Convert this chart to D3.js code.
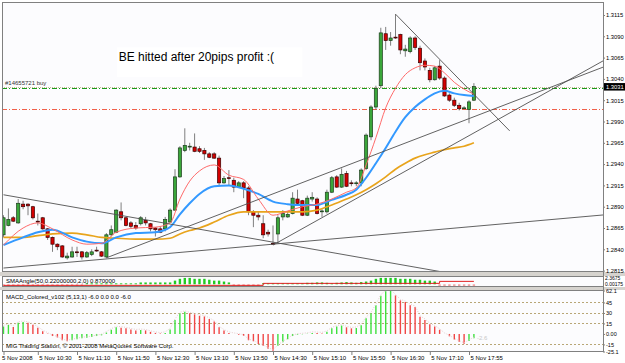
<!DOCTYPE html>
<html>
<head>
<meta charset="utf-8">
<title>EURUSD M5</title>
<script src="https://d3js.org/d3.v7.min.js"></script>
<style>
  body { margin: 0; background: #fff; }
  svg text { font-family: "Liberation Sans", Arial, sans-serif; }
</style>
</head>
<body>
<div id="chart"></div>
<script>

// candles, one per 5 minutes, bar 0 = 09:55
var opens = [1.2857,1.2868,1.2877,1.2871,1.2893,1.2893,1.2890,1.2873,1.2877,1.2864,
  1.2854,1.2846,1.2844,1.2830,1.2831,1.2837,1.2837,1.2831,1.2834,1.2839,
  1.2837,1.2831,1.2857,1.2860,1.2884,1.2877,1.2871,1.2868,1.2870,1.2874,
  1.2870,1.2865,1.2864,1.2864,1.2872,1.2886,1.2925,1.2956,1.2960,1.2960,
  1.2958,1.2956,1.2952,1.2952,1.2947,1.2918,1.2924,1.2921,1.2913,1.2918,
  1.2912,1.2884,1.2880,1.2870,1.2860,1.2847,1.2858,1.2878,1.2878,1.2882,
  1.2899,1.2897,1.2880,1.2899,1.2899,1.2884,1.2884,1.2907,1.2925,1.2913,
  1.2929,1.2918,1.2917,1.2918,1.2935,1.2972,1.3007,1.3032,1.3093,1.3085,
  1.3089,1.3092,1.3073,1.3072,1.3088,1.3076,1.3061,1.3050,1.3039,1.3055,
  1.3041,1.3021,1.3015,1.3009,1.3005,1.3004,1.3015];
var highs = [1.2880,1.2888,1.2879,1.2899,1.2897,1.2894,1.2891,1.2882,1.2878,1.2865,
  1.2855,1.2847,1.2845,1.2836,1.2843,1.2843,1.2838,1.2838,1.2840,1.2843,
  1.2838,1.2859,1.2868,1.2887,1.2895,1.2878,1.2873,1.2872,1.2879,1.2878,
  1.2871,1.2866,1.2867,1.2878,1.2888,1.2934,1.2961,1.2982,1.2965,1.2976,
  1.2961,1.2959,1.2954,1.2954,1.2950,1.2926,1.2933,1.2924,1.2920,1.2920,
  1.2914,1.2886,1.2884,1.2880,1.2863,1.2868,1.2880,1.2886,1.2884,1.2907,
  1.2910,1.2898,1.2903,1.2907,1.2901,1.2887,1.2910,1.2926,1.2927,1.2935,
  1.2932,1.2921,1.2920,1.2935,1.2976,1.3009,1.3032,1.3100,1.3101,1.3095,
  1.3116,1.3093,1.3080,1.3090,1.3090,1.3079,1.3064,1.3053,1.3055,1.3062,
  1.3043,1.3023,1.3018,1.3012,1.3008,1.3015,1.3035];
var lows = [1.2854,1.2867,1.2872,1.2870,1.2887,1.2880,1.2875,1.2868,1.2863,1.2851,
  1.2837,1.2839,1.2830,1.2828,1.2830,1.2831,1.2828,1.2830,1.2832,1.2837,
  1.2831,1.2830,1.2855,1.2859,1.2874,1.2867,1.2865,1.2863,1.2868,1.2868,
  1.2861,1.2855,1.2859,1.2861,1.2871,1.2885,1.2924,1.2954,1.2956,1.2954,
  1.2953,1.2945,1.2947,1.2946,1.2915,1.2917,1.2915,1.2907,1.2912,1.2900,
  1.2880,1.2866,1.2874,1.2853,1.2855,1.2845,1.2847,1.2874,1.2877,1.2881,
  1.2892,1.2879,1.2879,1.2896,1.2881,1.2878,1.2882,1.2906,1.2912,1.2912,
  1.2913,1.2914,1.2914,1.2914,1.2933,1.2968,1.3004,1.3029,1.3074,1.3079,
  1.3087,1.3069,1.3066,1.3070,1.3074,1.3050,1.3050,1.3036,1.3038,1.3039,
  1.3019,1.3013,1.3007,1.3003,1.3005,1.2988,1.3014];
var closes = [1.2877,1.2875,1.2873,1.2894,1.2890,1.2891,1.2877,1.2872,1.2864,1.2854,
  1.2846,1.2843,1.2831,1.2832,1.2837,1.2836,1.2831,1.2836,1.2837,1.2838,
  1.2832,1.2857,1.2863,1.2886,1.2877,1.2868,1.2867,1.2865,1.2877,1.2871,
  1.2864,1.2863,1.2860,1.2875,1.2886,1.2925,1.2959,1.2962,1.2961,1.2955,
  1.2955,1.2952,1.2948,1.2947,1.2918,1.2923,1.2923,1.2913,1.2918,1.2912,
  1.2884,1.2880,1.2878,1.2857,1.2858,1.2846,1.2877,1.2882,1.2881,1.2900,
  1.2894,1.2880,1.2900,1.2901,1.2882,1.2885,1.2907,1.2924,1.2913,1.2928,
  1.2914,1.2917,1.2918,1.2933,1.2974,1.3007,1.3029,1.3094,1.3085,1.3088,
  1.3088,1.3074,1.3075,1.3088,1.3077,1.3059,1.3054,1.3039,1.3053,1.3041,
  1.3020,1.3015,1.3009,1.3005,1.3006,1.3013,1.3031];

// moving averages at these bars
var maBars = [0,4,7,10,14,17,20,23,27,31,34,36,38,40,43,46,49,52,55,58,61,64,67,70,72,74,76,78,80,82,84,86,88,90,92,94,96];
var maFast = [1.2845,1.2865,1.2871,1.2864,1.2851,1.2846,1.2847,1.2860,1.2865,1.2866,1.2871,1.2899,1.2920,1.2932,1.2939,1.2927,1.2922,1.2899,1.2880,1.2885,1.2890,1.2893,1.2899,1.2907,1.2912,1.2939,1.2971,1.3006,1.3029,1.3045,1.3053,1.3056,1.3055,1.3047,1.3036,1.3028,1.3022];
var maMid = [1.2845,1.2854,1.2860,1.2863,1.2854,1.2849,1.2847,1.2854,1.2859,1.2860,1.2866,1.2881,1.2894,1.2905,1.2914,1.2915,1.2911,1.2905,1.2896,1.2893,1.2892,1.2892,1.2898,1.2904,1.2910,1.2924,1.2941,1.2959,1.2978,1.2995,1.3007,1.3016,1.3023,1.3026,1.3023,1.3021,1.3020];
var maSlow = [1.2854,1.2854,1.2856,1.2858,1.2859,1.2857,1.2854,1.2853,1.2852,1.2852,1.2853,1.2858,1.2862,1.2865,1.2872,1.2880,1.2884,1.2884,1.2884,1.2884,1.2884,1.2886,1.2892,1.2899,1.2904,1.2910,1.2917,1.2925,1.2934,1.2941,1.2947,1.2951,1.2954,1.2957,1.2959,1.2961,1.2965];

// trend lines (bar, price) -> (bar, price)
var trendFromBar = [0, 0, 55, 21, 80];
var trendFromPrice = [1.2904, 1.2818, 1.2845, 1.2830, 1.3116];
var trendToBar = [88, 55, 122, 122, 103.3];
var trendToPrice = [1.2815, 1.2846, 1.3060, 1.3053, 1.2979];
var trendRay = [true, true, true, true, false];

var orderPrice = 1.3029, stopPrice = 1.3005, bidPrice = 1.3031;
var orderLabel = "#14655721 buy";
var noteText = "BE hitted after 20pips profit :(";
var noteBar = 23.5, notePrice = 1.3061;
var noteBoxBars = [23.2, 61], noteBoxPrices = [1.3077, 1.3042];

var priceTicks = [1.2815,1.2840,1.2865,1.2890,1.2915,1.2940,1.2965,1.2990,1.3015,1.3040,1.3065,1.3090,1.3115];
var timeTickBars = [0,7,15,23,31,39,47,55,63,71,79,87,95];
var timeTickLabels = ["5 Nov 2008","5 Nov 10:30","5 Nov 11:10","5 Nov 11:50","5 Nov 12:30","5 Nov 13:10","5 Nov 13:50","5 Nov 14:30","5 Nov 15:10","5 Nov 15:50","5 Nov 16:30","5 Nov 17:10","5 Nov 17:55"];

// SMAAngle sub window
var smaAngle = [-1,-1,-1,-1,-1,-1,-1,-1,-1,-1,-1,-1,-1,-1,-1,-1,-1,
  0.5,0.5,0.5,0.5,0.5,0.5,0.5,0.5,0.5,0.5,0.5,
  1,1,1,1,1,1,1,
  2,3,3.5,3.5,3,3,3,2.5,2,2,1.5,1,
  -1,-1,-1,-1,-1,-1,
  0.5,0.5,0.5,0.5,0.5,0.5,0.5,0.5,
  0.5,0.8,0.8,1,1,0.8,0.5,0.8,1,1.2,1,0.8,1.2,1.5,
  2,3,3.5,3.5,3.5,3.5,3,3,3,2.5,2.5,2,2,1.5,
  -1,-1,-1,-1,-1,-1,-1,-1];
var smaLevelBars = [0, 53, 89, 96];
var smaLevel = [-0.6, 0.5, 1.6, 1.6];
var smaTitle = "SMAAngle(50,0.22000000,2,0) 0.870000";
var smaAxisValues = [3.4, 0.2];
var smaAxisLabels = ["2.3675", "0.00175"];

// MACD sub window
var macd = [10.8,13,10,16,17,16,13,9,4,0.5,
  -3,-5,-9,-10.5,-9,-7.6,-6,-5.5,-4.5,-3,
  -2,2,6,9.5,9,8,6.5,5,5.5,5,
  3,1.5,0.5,1.5,6.5,20,29.6,31.6,29.6,28,
  26,25,21.5,17.7,9.4,4.8,1.5,0,-1,-2.5,
  -9,-10.5,-14.5,-17,-21,-24,-17,-12,-7.6,-3,
  -1,-0.5,0.2,1.5,1.2,0.8,3,8,10.5,12,
  9.5,8,8.5,12.6,22.6,29.6,41,54.7,61,62.1,
  55,48,45.6,41,38.6,24.6,20,14,10.6,6,
  0,-3.4,-8,-11,-14,-10,-6];
var macdTicks = [62.1, 45, 30, 15, 0, -15, -25.1];
var macdTickLabels = ["62.1","45","30","15","0.00","-15","-25.1"];
var macdLevels = [45, 30, 15, -15];
var macdTitle = "MACD_Colored_v102 (5,13,1) -6.0 0.0 0.0 -6.0";
var copyright = "MIG Trading Station, \u00a9 2001-2008 MetaQuotes Software Corp.";

var w = 625, h = 363;
var left = 2, right = 603;
var mainTop = 2, mainBot = 272, smaTop = 276, smaBot = 287, macdTop = 290, macdBot = 352;

var x = d3.scaleLinear().domain([0, 96]).range([3.5, 473.9]);
var y = d3.scaleLinear().domain([1.2815, 1.3115]).range([270.6, 15]);
var ySma = d3.scaleLinear().domain([-1.5, 4]).range([smaBot, smaTop + 1]);
var yMacd = d3.scaleLinear().domain([-25.1, 62.1]).range([351.5, 290.5]);

var svg = d3.select("#chart").append("svg")
    .attr("width", w)
    .attr("height", h)
svg.append("rect").attr("width", w).attr("height", h).attr("fill", "#fff");

// splitters between windows
svg.append("rect").attr("x", 0).attr("y", mainBot).attr("width", w).attr("height", smaTop - mainBot).attr("fill", "#d6d3ce");
svg.append("rect").attr("x", 0).attr("y", smaBot).attr("width", w).attr("height", macdTop - smaBot).attr("fill", "#d6d3ce");

function panel(top, bottom, id) {
  svg.append("rect")
      .attr("x", left + 0.5).attr("y", top + 0.5)
      .attr("width", right - left).attr("height", bottom - top - 1)
      .attr("fill", "#fcfcfe").attr("stroke", "#808080");
  svg.append("clipPath").attr("id", id).append("rect")
      .attr("x", left + 1).attr("y", top + 1)
      .attr("width", right - left - 1).attr("height", bottom - top - 2);
  return svg.append("g").attr("clip-path", "url(#" + id + ")");
}

var main = panel(mainTop, mainBot, "clipMain");
var smaG = panel(smaTop, smaBot, "clipSma");
var macdG = panel(macdTop, macdBot, "clipMacd");

// note box + text
main.append("rect")
    .attr("x", x(noteBoxBars[0])).attr("y", y(noteBoxPrices[0]))
    .attr("width", x(noteBoxBars[1]) - x(noteBoxBars[0]))
    .attr("height", y(noteBoxPrices[1]) - y(noteBoxPrices[0]))
    .attr("fill", "#fff");
main.append("text")
    .attr("x", x(noteBar)).attr("y", y(notePrice))
    .attr("font-size", "12px").attr("fill", "#000")
    .text(noteText);

// horizontal levels
function hline(p, color, dash, sw) {
  main.append("line")
      .attr("x1", left).attr("x2", right)
      .attr("y1", Math.round(y(p)) + 0.5).attr("y2", Math.round(y(p)) + 0.5)
      .attr("stroke", color).attr("stroke-width", sw || 1)
      .attr("stroke-dasharray", dash);
}
hline(bidPrice, "#c8bf98", "1,1");
hline(orderPrice, "#1a9a1a", "5,2,1,2");
hline(stopPrice, "#f0604a", "5,2,1,2");
main.append("text")
    .attr("x", left + 3).attr("y", y(bidPrice) - 2)
    .attr("font-size", "6px").attr("fill", "#333")
    .text(orderLabel);

// candles
var candles = d3.range(closes.length).map(function(i){
  return {i: i, o: opens[i], h: highs[i], l: lows[i], c: closes[i]};
});

main.selectAll(".wick")
    .data(candles)
    .enter()
    .append("line")
    .attr("class", "wick")
    .attr("x1", function(d){ return x(d.i) })
    .attr("x2", function(d){ return x(d.i) })
    .attr("y1", function(d){ return y(d.h) })
    .attr("y2", function(d){ return y(d.l) })
    .attr("stroke", "#707070")
    .attr("stroke-width", 0.9)

main.selectAll(".body")
    .data(candles)
    .enter()
    .append("rect")
    .attr("class", "body")
    .attr("x", function(d){ return x(d.i) - 1.6 })
    .attr("width", 3.2)
    .attr("y", function(d){ return y(Math.max(d.o, d.c)) })
    .attr("height", function(d){ return Math.max(0.8, Math.abs(y(d.o) - y(d.c))) })
    .attr("fill", function(d){ return d.c >= d.o ? "#3aa63a" : "#d40000" })
    .attr("stroke", function(d){ return d.c >= d.o ? "#1d3d1d" : "#3a0000" })
    .attr("stroke-width", 0.7)

// moving averages
function maLine(vals, color, sw) {
  var pts = maBars.map(function(b, k){ return [b, vals[k]] });
  main.append("path")
      .datum(pts)
      .attr("fill", "none")
      .attr("stroke", color)
      .attr("stroke-width", sw)
      .attr("d", d3.line().x(function(d){ return x(d[0]) }).y(function(d){ return y(d[1]) }).curve(d3.curveMonotoneX));
}
maLine(maSlow, "#e8a41c", 1.7);
maLine(maMid, "#3399ff", 2);
maLine(maFast, "#ff6a6a", 1);

// trend lines
trendFromBar.forEach(function(b0, k){
  var p0 = trendFromPrice[k], b1 = trendToBar[k], p1 = trendToPrice[k];
  if (trendRay[k]) {
    var slope = (p1 - p0) / (b1 - b0);
    p1 = p0 + slope * (135 - b0);
    b1 = 135;
  }
  main.append("line")
      .attr("x1", x(b0)).attr("y1", y(p0))
      .attr("x2", x(b1)).attr("y2", y(p1))
      .attr("stroke", "#505050").attr("stroke-width", 0.9);
});

// price axis
var priceAxis = d3.axisRight(y)
    .tickValues(priceTicks)
    .tickFormat(d3.format(".4f"))
    .tickSize(2)
    .tickPadding(1);
var pa = svg.append("g")
    .attr("transform", "translate(" + right + ",0)")
    .call(priceAxis);
pa.select(".domain").remove();
pa.selectAll("line").attr("stroke", "#808080");
pa.selectAll("text").attr("font-size", "5.8px").attr("fill", "#000");

// current price box
svg.append("rect")
    .attr("x", right + 1).attr("y", y(bidPrice) - 3.5)
    .attr("width", 21).attr("height", 7.5)
    .attr("fill", "#000");
svg.append("text")
    .attr("x", right + 3).attr("y", y(bidPrice) + 2.2)
    .attr("font-size", "5.8px").attr("fill", "#fff")
    .text(d3.format(".4f")(bidPrice));

// SMAAngle window
smaG.selectAll(".sa")
    .data(smaAngle)
    .enter()
    .append("rect")
    .attr("class", "sa")
    .attr("x", function(d, i){ return x(i) - 1.2 })
    .attr("width", 2.4)
    .attr("y", function(d){ return Math.min(ySma(d), ySma(0)) })
    .attr("height", function(d){ return Math.abs(ySma(d) - ySma(0)) })
    .attr("fill", function(d){ return d >= 0 ? "#22cc22" : "#f4a4a4" })
smaG.append("path")
    .datum(smaLevelBars.map(function(b, k){ return [b, smaLevel[k]] }))
    .attr("fill", "none")
    .attr("stroke", "#e02020")
    .attr("stroke-width", 1)
    .attr("d", d3.line().x(function(d){ return x(d[0]) }).y(function(d){ return ySma(d[1]) }).curve(d3.curveStepAfter));
smaG.append("text")
    .attr("x", left + 4).attr("y", smaTop + 7)
    .attr("font-size", "6px").attr("fill", "#000")
    .text(smaTitle);
smaAxisValues.forEach(function(v, k){
  svg.append("text")
      .attr("x", right + 2).attr("y", ySma(v) + 2)
      .attr("font-size", "5px").attr("fill", "#000")
      .text(smaAxisLabels[k]);
});

// MACD window
macdLevels.forEach(function(v){
  macdG.append("line")
      .attr("x1", left).attr("x2", right)
      .attr("y1", Math.round(yMacd(v)) + 0.5).attr("y2", Math.round(yMacd(v)) + 0.5)
      .attr("stroke", "#b8a676").attr("stroke-dasharray", "2,2");
});
macdG.selectAll(".mh")
    .data(macd)
    .enter()
    .append("line")
    .attr("class", "mh")
    .attr("x1", function(d, i){ return x(i) })
    .attr("x2", function(d, i){ return x(i) })
    .attr("y1", yMacd(0))
    .attr("y2", function(d){ return yMacd(d) })
    .attr("stroke", function(d, i){ return (i == 0 || d >= macd[i - 1]) ? "#3ee03e" : "#f04646" })
    .attr("stroke-width", 1.4)
macdG.append("path")
    .datum(macd)
    .attr("fill", "none")
    .attr("stroke", "#e6cccc")
    .attr("stroke-dasharray", "1,1.5")
    .attr("d", d3.line().x(function(d, i){ return x(i) }).y(function(d){ return yMacd(d) - 1 }));
macdG.append("text")
    .attr("x", left + 4).attr("y", macdTop + 9)
    .attr("font-size", "6px").attr("fill", "#000")
    .text(macdTitle);
macdG.append("text")
    .attr("x", left + 4).attr("y", macdBot - 4)
    .attr("font-size", "6px").attr("fill", "#000")
    .text(copyright);
macdG.append("text")
    .attr("x", x(96) + 3).attr("y", yMacd(-9))
    .attr("font-size", "6px").attr("fill", "#c8c8c8")
    .text("-2.6");

var macdAxis = d3.axisRight(yMacd)
    .tickValues(macdTicks)
    .tickFormat(function(d, k){ return macdTickLabels[k] })
    .tickSize(2)
    .tickPadding(1);
var ma = svg.append("g")
    .attr("transform", "translate(" + right + ",0)")
    .call(macdAxis);
ma.select(".domain").remove();
ma.selectAll("line").attr("stroke", "#808080");
ma.selectAll("text").attr("font-size", "5.5px").attr("fill", "#000");

// time axis
var timeAxis = d3.axisBottom(x)
    .tickValues(timeTickBars)
    .tickFormat(function(d, k){ return timeTickLabels[k] })
    .tickSize(3)
    .tickPadding(1);
var ta = svg.append("g")
    .attr("transform", "translate(0," + macdBot + ")")
    .call(timeAxis);
ta.select(".domain").remove();
ta.selectAll("line").attr("stroke", "#808080");
ta.selectAll("text")
    .attr("text-anchor", "start")
    .attr("x", function(d, k){ return k == 0 ? -2 : 1 })
    .attr("font-size", "6px")
    .attr("fill", "#000");

// right edge line of the plot area
svg.append("line")
    .attr("x1", right + 0.5).attr("x2", right + 0.5)
    .attr("y1", mainTop).attr("y2", macdBot)
    .attr("stroke", "#808080");

</script>
</body>
</html>
